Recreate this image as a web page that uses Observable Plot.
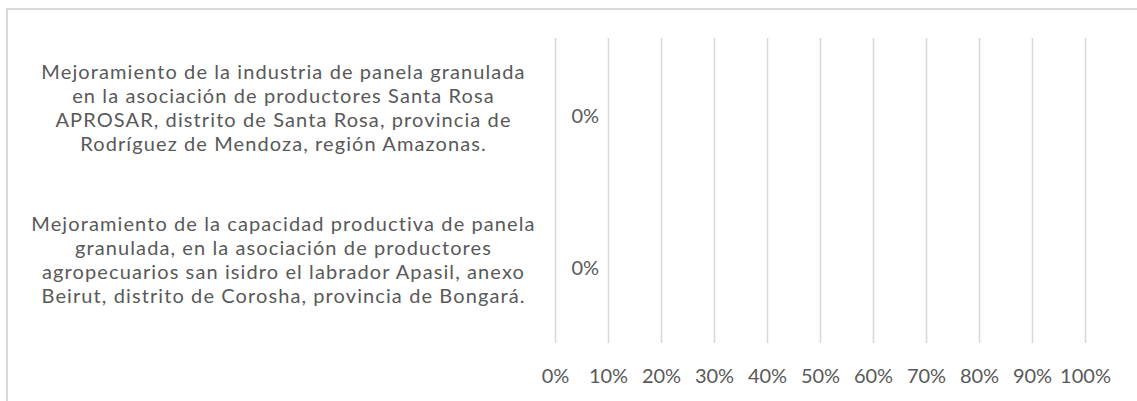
<!DOCTYPE html>
<html>
<head>
<meta charset="utf-8">
<script src="https://cdn.jsdelivr.net/npm/d3@7"></script>
<script src="https://cdn.jsdelivr.net/npm/@observablehq/plot@0.6"></script>
<style>
  html, body { margin: 0; padding: 0; background: #fff; overflow: hidden; }
  #wrap { position: relative; width: 1137px; height: 401px; }
  #frame { position: absolute; left: 6px; top: 8px; width: 1200px; height: 500px;
           border-left: 2px solid #d9d9d9; border-top: 2px solid #d9d9d9; box-sizing: border-box; }
  #chart { position: absolute; left: 0; top: 0; }
  .cat-labels text { letter-spacing: 1.1px; }
</style>
</head>
<body>
<div id="wrap"><div id="frame"></div><div id="chart"></div></div>
<script>
const categories = [
  "Mejoramiento de la industria de panela granulada\nen la asociación de productores Santa Rosa\nAPROSAR, distrito de Santa Rosa, provincia de\nRodríguez de Mendoza, región Amazonas.",
  "Mejoramiento de la capacidad productiva de panela\ngranulada, en la asociación de productores\nagropecuarios san isidro el labrador Apasil, anexo\nBeirut, distrito de Corosha, provincia de Bongará."
];
const values = [0, 0];
const xTicks = [0, 0.1, 0.2, 0.3, 0.4, 0.5, 0.6, 0.7, 0.8, 0.9, 1.0];

const data = categories.map((c, i) => ({category: c, value: values[i]}));
const pct = d3.format(".0%");
const FONT = "Lato, 'Open Sans', sans-serif";

const chart = Plot.plot({
  width: 1137,
  height: 401,
  marginLeft: 555,
  marginRight: 52,
  marginTop: 38,
  marginBottom: 58,
  style: {fontFamily: FONT, fontSize: "20px", color: "#595959", background: "transparent"},
  x: {domain: [0, 1], ticks: xTicks, tickFormat: pct, tickSize: 0, tickPadding: 26, label: null},
  y: {domain: categories, padding: 0, axis: null, label: null},
  marks: [
    Plot.ruleX(xTicks, {stroke: "#d9d9d9", strokeWidth: 1.6}),
    Plot.barX(data, {x: "value", y: "category", fill: "#4472c4", insetTop: 40, insetBottom: 40}),
    Plot.text(data, {x: 0, y: "category", text: "category", textAnchor: "middle", dx: -272, dy: -8,
      lineHeight: 1.2, fill: "#595959", fontSize: 20, className: "cat-labels"}),
    Plot.text(data, {x: "value", y: "category", text: d => pct(d.value), textAnchor: "start", dx: 16, dy: 1,
      fill: "#595959", fontSize: 20}),
    Plot.axisX({ticks: xTicks, tickFormat: pct, tickSize: 0, tickPadding: 25, fill: "#595959", fontSize: 20, label: null})
  ]
});
document.getElementById("chart").appendChild(chart);
</script>
</body>
</html>
